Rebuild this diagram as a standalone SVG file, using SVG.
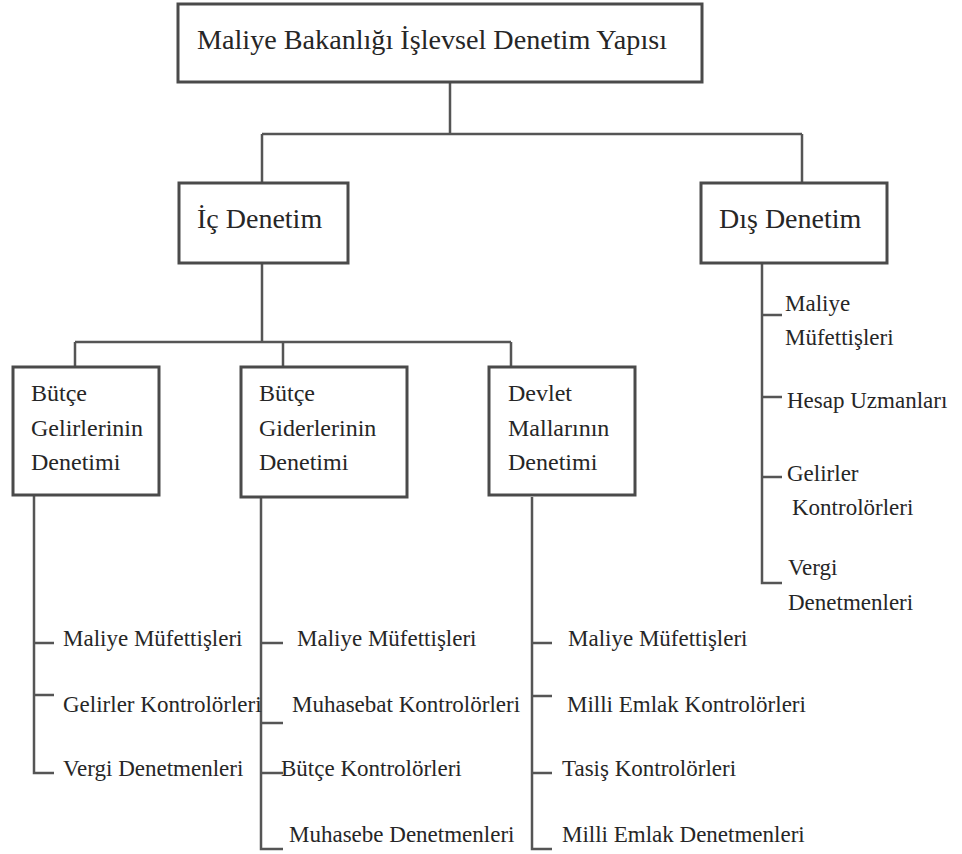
<svg xmlns="http://www.w3.org/2000/svg" width="962" height="854" viewBox="0 0 962 854" font-family="'Liberation Serif', 'DejaVu Serif', serif">
<style>
.box{fill:#fff;stroke:#4a4a4a;stroke-width:3}
.ln{fill:none;stroke:#555;stroke-width:2.5}
text{font-family:'Liberation Serif','DejaVu Serif',serif;fill:#262626}
.t1{font-size:28px}
.t2{font-size:24px}
.t3{font-size:23px}
</style>
<rect width="962" height="854" fill="#fff"/>
<g id="connectors">
<path class="ln" d="M450 82V134M262 134H802M262 134V183M802 134V183"/>
<path class="ln" d="M262 263V342M75 342H511M75 342V367M283 342V367M511 342V367"/>
<path class="ln" d="M34 495V773H54M34 643H54M34 695H54"/>
<path class="ln" d="M261 497V849H283M261 643H283M261 723H283M261 773H283"/>
<path class="ln" d="M532 497V849H552M532 643H552M532 696H552M532 773H552"/>
<path class="ln" d="M762 263V583H782M762 315H782M762 397H782M762 477H782"/>
</g>
<g id="root">
<rect class="box" x="178" y="4" width="524" height="78"/>
<text class="t1" x="197" y="49" textLength="470" lengthAdjust="spacingAndGlyphs">Maliye Bakanlığı İşlevsel Denetim Yapısı</text>
</g>
<g id="ic">
<rect class="box" x="179" y="183" width="169" height="80"/>
<text class="t1" x="197" y="228">İç Denetim</text>
</g>
<g id="dis">
<rect class="box" x="701" y="183" width="186" height="80"/>
<text class="t1" x="719" y="228">Dış Denetim</text>
</g>
<g id="butce-gelir">
<rect class="box" x="13" y="367" width="146" height="128"/>
<text class="t2" x="31" y="401">Bütçe</text>
<text class="t2" x="31" y="436">Gelirlerinin</text>
<text class="t2" x="31" y="470">Denetimi</text>
</g>
<g id="butce-gider">
<rect class="box" x="241" y="367" width="166" height="130"/>
<text class="t2" x="259" y="401">Bütçe</text>
<text class="t2" x="259" y="436">Giderlerinin</text>
<text class="t2" x="259" y="470">Denetimi</text>
</g>
<g id="devlet">
<rect class="box" x="489" y="367" width="146" height="128"/>
<text class="t2" x="508" y="401">Devlet</text>
<text class="t2" x="508" y="436">Mallarının</text>
<text class="t2" x="508" y="470">Denetimi</text>
</g>
<g id="gelir-items">
<text class="t3" x="63" y="646">Maliye Müfettişleri</text>
<text class="t3" x="63" y="712">Gelirler Kontrolörleri</text>
<text class="t3" x="63" y="776">Vergi Denetmenleri</text>
</g>
<g id="gider-items">
<text class="t3" x="297" y="646">Maliye Müfettişleri</text>
<text class="t3" x="292" y="712">Muhasebat Kontrolörleri</text>
<text class="t3" x="281" y="776">Bütçe Kontrolörleri</text>
<text class="t3" x="289" y="842">Muhasebe Denetmenleri</text>
</g>
<g id="devlet-items">
<text class="t3" x="568" y="646">Maliye Müfettişleri</text>
<text class="t3" x="567" y="712">Milli Emlak Kontrolörleri</text>
<text class="t3" x="562" y="776">Tasiş Kontrolörleri</text>
<text class="t3" x="562" y="842">Milli Emlak Denetmenleri</text>
</g>
<g id="dis-items">
<text class="t3" x="785" y="311">Maliye</text>
<text class="t3" x="785" y="345">Müfettişleri</text>
<text class="t3" x="787" y="408">Hesap Uzmanları</text>
<text class="t3" x="787" y="481">Gelirler</text>
<text class="t3" x="792" y="515">Kontrolörleri</text>
<text class="t3" x="788" y="575">Vergi</text>
<text class="t3" x="788" y="610">Denetmenleri</text>
</g>
</svg>
